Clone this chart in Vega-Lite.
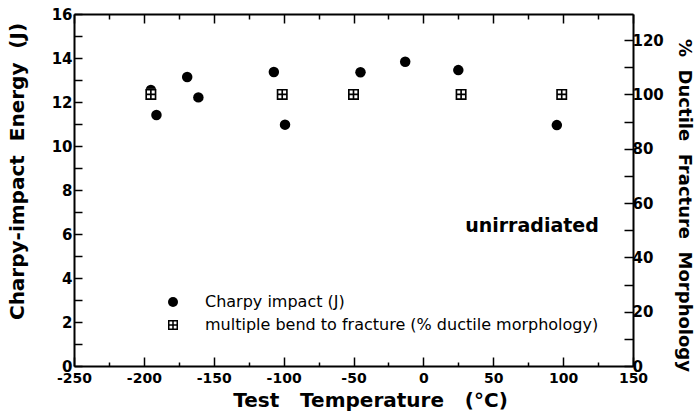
{
  "$schema": "https://vega.github.io/schema/vega-lite/v6.json",
  "autosize": {"type": "none"},
  "padding": {"left": 74, "top": 14, "right": 62, "bottom": 46},
  "width": 559,
  "height": 352,
  "background": "white",
  "config": {
    "view": {"stroke": null},
    "axis": {
      "grid": false,
      "domainColor": "black",
      "domainWidth": 2,
      "tickColor": "black",
      "tickWidth": 1.5,
      "labelColor": "black",
      "titleColor": "black",
      "labelFont": "DejaVu Sans",
      "labelFontWeight": "bold",
      "labelFontSize": 15,
      "titleFont": "DejaVu Sans",
      "titleFontWeight": "bold",
      "labelOverlap": false,
      "labelFlush": false
    }
  },
  "datasets": {
    "charpy": [
      {"temp": -195, "energy": 12.55, "series": "Charpy impact (J)"},
      {"temp": -191, "energy": 11.41, "series": "Charpy impact (J)"},
      {"temp": -169, "energy": 13.14, "series": "Charpy impact (J)"},
      {"temp": -161, "energy": 12.21, "series": "Charpy impact (J)"},
      {"temp": -107, "energy": 13.36, "series": "Charpy impact (J)"},
      {"temp": -99, "energy": 10.97, "series": "Charpy impact (J)"},
      {"temp": -45, "energy": 13.35, "series": "Charpy impact (J)"},
      {"temp": -13, "energy": 13.83, "series": "Charpy impact (J)"},
      {"temp": 25, "energy": 13.45, "series": "Charpy impact (J)"},
      {"temp": 95.5, "energy": 10.95, "series": "Charpy impact (J)"}
    ],
    "bend": [
      {"temp": -195, "ductile": 100, "series": "multiple bend to fracture (% ductile morphology)"},
      {"temp": -101, "ductile": 100, "series": "multiple bend to fracture (% ductile morphology)"},
      {"temp": -50, "ductile": 100, "series": "multiple bend to fracture (% ductile morphology)"},
      {"temp": 27, "ductile": 100, "series": "multiple bend to fracture (% ductile morphology)"},
      {"temp": 99, "ductile": 100, "series": "multiple bend to fracture (% ductile morphology)"}
    ],
    "note": [
      {"temp": 77.7, "energy": 6.1, "label": "unirradiated"}
    ]
  },
  "layer": [
    {
      "data": {"name": "charpy"},
      "mark": {"type": "point", "filled": true, "color": "black", "size": 110, "strokeWidth": 0, "opacity": 1},
      "encoding": {
        "x": {
          "field": "temp", "type": "quantitative",
          "scale": {"domain": [-250, 150], "nice": false, "zero": false},
          "axis": {
            "orient": "bottom",
            "values": [-250, -225, -200, -175, -150, -125, -100, -75, -50, -25, 0, 25, 50, 75, 100, 125, 150],
            "labelExpr": "datum.value % 50 === 0 ? '' + datum.value : ''",
            "tickSize": {"condition": {"test": "datum.value % 50 === 0", "value": -9}, "value": -4},
            "labelPadding": 14,
            "labelFontSize": 14,
            "title": "Test\u00a0\u00a0\u00a0Temperature\u00a0\u00a0\u00a0(°C)",
            "titleFontSize": 20,
            "titleX": 296,
            "titleY": 34,
            "titleBaseline": "middle",
            "titleAlign": "center"
          }
        },
        "y": {
          "field": "energy", "type": "quantitative",
          "scale": {"domain": [0, 16], "nice": false, "zero": true},
          "axis": {
            "orient": "left",
            "values": [0, 1, 2, 3, 4, 5, 6, 7, 8, 9, 10, 11, 12, 13, 14, 15, 16],
            "labelExpr": "datum.value % 2 === 0 ? '' + datum.value : ''",
            "tickSize": -8,
            "labelPadding": 10,
            "title": "Charpy-impact\u00a0\u00a0Energy\u00a0\u00a0(J)",
            "titleFontSize": 20,
            "titleAngle": -90,
            "titleX": -57,
            "titleY": 157,
            "titleBaseline": "middle",
            "titleAlign": "center"
          }
        },
        "shape": {
          "field": "series", "type": "nominal",
          "scale": {"domain": ["Charpy impact (J)", "multiple bend to fracture (% ductile morphology)"], "range": ["circle", "M-1,-1H1V1H-1Z M-0.7,-0.7V-0.15H-0.15V-0.7Z M0.15,-0.7V-0.15H0.7V-0.7Z M-0.7,0.15V0.7H-0.15V0.15Z M0.15,0.15V0.7H0.7V0.15Z"]},
          "legend": {"orient": "none", "legendX": 91, "legendY": 280, "title": null, "labelFont": "DejaVu Sans", "labelFontSize": 16, "labelColor": "black", "symbolSize": 100, "symbolFillColor": "black", "symbolStrokeColor": "transparent", "symbolStrokeWidth": 1.5, "rowPadding": 7, "labelOffset": 24, "padding": 0, "labelLimit": 600}
        }
      }
    },
    {
      "data": {"name": "bend"},
      "mark": {"type": "square", "filled": true, "color": "white", "size": 121, "strokeWidth": 0, "opacity": 1},
      "encoding": {
        "x": {
          "field": "temp", "type": "quantitative",
          "scale": {"domain": [-250, 150], "nice": false, "zero": false},
          "axis": null
        },
        "y": {
          "field": "ductile", "type": "quantitative",
          "scale": {"domain": [0, 129.6], "nice": false, "zero": true},
          "axis": null
        }
      }
    },
    {
      "data": {"name": "bend"},
      "mark": {"type": "point", "filled": true, "color": "black", "size": 121, "strokeWidth": 0, "opacity": 1},
      "encoding": {
        "x": {
          "field": "temp", "type": "quantitative",
          "scale": {"domain": [-250, 150], "nice": false, "zero": false},
          "axis": {
            "orient": "top",
            "values": [-250, -225, -200, -175, -150, -125, -100, -75, -50, -25, 0, 25, 50, 75, 100, 125, 150],
            "labels": false,
            "ticks": true,
            "tickSize": {"condition": {"test": "datum.value % 50 === 0", "value": -9}, "value": -5},
            "title": null
          }
        },
        "y": {
          "field": "ductile", "type": "quantitative",
          "scale": {"domain": [0, 129.6], "nice": false, "zero": true},
          "axis": {
            "orient": "right",
            "values": [0, 10, 20, 30, 40, 50, 60, 70, 80, 90, 100, 110, 120],
            "labelExpr": "datum.value % 20 === 0 ? '' + datum.value : ''",
            "tickSize": -9,
            "labelPadding": 8,
            "title": "%\u00a0\u00a0Ductile\u00a0\u00a0Fracture\u00a0\u00a0Morphology",
            "titleFontSize": 18,
            "titleAngle": 90,
            "titleX": 50,
            "titleY": 191,
            "titleBaseline": "middle",
            "titleAlign": "center"
          }
        },
        "shape": {
          "field": "series", "type": "nominal",
          "scale": {"domain": ["Charpy impact (J)", "multiple bend to fracture (% ductile morphology)"], "range": ["circle", "M-1,-1H1V1H-1Z M-0.7,-0.7V-0.15H-0.15V-0.7Z M0.15,-0.7V-0.15H0.7V-0.7Z M-0.7,0.15V0.7H-0.15V0.15Z M0.15,0.15V0.7H0.7V0.15Z"]},
          "legend": {"orient": "none", "legendX": 91, "legendY": 280, "title": null, "labelFont": "DejaVu Sans", "labelFontSize": 16, "labelColor": "black", "symbolSize": 100, "symbolFillColor": "black", "symbolStrokeColor": "transparent", "symbolStrokeWidth": 1.5, "rowPadding": 7, "labelOffset": 24, "padding": 0, "labelLimit": 600}
        }
      }
    },
    {
      "data": {"name": "note"},
      "mark": {"type": "text", "font": "DejaVu Sans", "fontWeight": "bold", "fontSize": 19, "align": "center", "baseline": "alphabetic", "color": "black"},
      "encoding": {
        "x": {"field": "temp", "type": "quantitative", "scale": {"domain": [-250, 150], "nice": false, "zero": false}, "axis": null},
        "y": {"field": "energy", "type": "quantitative", "scale": {"domain": [0, 16], "nice": false, "zero": true}, "axis": null},
        "text": {"field": "label"}
      }
    }
  ],
  "resolve": {
    "scale": {"x": "independent", "y": "independent"},
    "axis": {"x": "independent", "y": "independent"}
  }
}
